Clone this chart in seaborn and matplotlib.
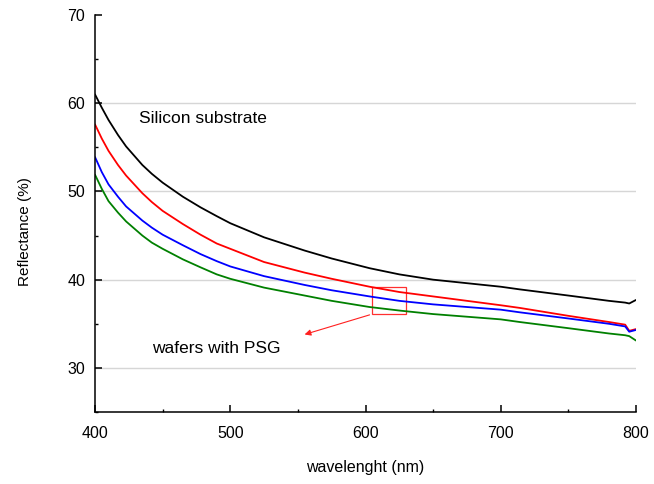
import numpy as np
import pandas as pd
import matplotlib
matplotlib.use("Agg")
import matplotlib.pyplot as plt
import seaborn as sns
from matplotlib.patches import Rectangle
from matplotlib.ticker import MultipleLocator

# wavelength samples (nm)
wavelength = [400, 405, 410, 417, 423, 435, 442, 450, 465, 478, 490, 500, 525, 555, 575,
              603, 625, 650, 700, 714, 750, 780, 792, 795, 800]

# reflectance (%) per sample
silicon = [61.0, 59.5, 58.1, 56.4, 55.1, 53.0, 52.0, 51.0, 49.4, 48.2, 47.2, 46.4, 44.8, 43.3, 42.4,
           41.3, 40.6, 40.0, 39.2, 38.9, 38.2, 37.6, 37.4, 37.3, 37.7]
psg_red = [57.6, 56.0, 54.6, 53.0, 51.8, 49.8, 48.8, 47.8, 46.3, 45.1, 44.1, 43.5, 42.0, 40.8, 40.1,
           39.2, 38.6, 38.1, 37.1, 36.8, 35.9, 35.2, 34.9, 34.2, 34.4]
psg_blue = [53.9, 52.2, 50.8, 49.4, 48.3, 46.7, 45.9, 45.1, 43.9, 42.9, 42.1, 41.5, 40.4, 39.4, 38.8,
            38.1, 37.6, 37.2, 36.6, 36.3, 35.6, 35.0, 34.7, 34.1, 34.3]
psg_green = [51.9, 50.3, 48.9, 47.6, 46.6, 45.0, 44.2, 43.5, 42.3, 41.4, 40.6, 40.1, 39.1, 38.2, 37.6,
             36.9, 36.5, 36.1, 35.5, 35.2, 34.5, 33.9, 33.7, 33.6, 33.1]

series_names = ["silicon", "red", "blue", "green"]
series_colors = {"silicon": "black", "red": "#ff0000", "blue": "#0000ff", "green": "#008000"}

df = pd.DataFrame({
    "wavelength": wavelength * 4,
    "reflectance": silicon + psg_red + psg_blue + psg_green,
    "sample": [n for n in series_names for _ in wavelength],
})

sns.set_theme(style="ticks")
plt.rcParams["font.family"] = ["Liberation Sans", "DejaVu Sans"]

fig = plt.figure(figsize=(6.54, 4.84), dpi=100)
ax = fig.add_axes([95 / 654, 1 - 412 / 484, 541 / 654, 397 / 484])

sns.lineplot(data=df, x="wavelength", y="reflectance", hue="sample",
             palette=series_colors, hue_order=series_names,
             linewidth=1.3, legend=False, ax=ax)

ax.set_xlim(400, 800)
ax.set_ylim(25, 70)
ax.set_xticks([400, 500, 600, 700, 800])
ax.set_yticks([30, 40, 50, 60, 70])
ax.xaxis.set_minor_locator(MultipleLocator(50))
ax.yaxis.set_minor_locator(MultipleLocator(5))

ax.grid(axis="y", color="#d6d6d6", linewidth=1.0)
ax.get_ygridlines()[-1].set_visible(False)
ax.set_axisbelow(True)

sns.despine(ax=ax)
for side in ["left", "bottom"]:
    ax.spines[side].set_color("black")
    ax.spines[side].set_linewidth(1.1)

ax.tick_params(which="major", direction="in", length=5, width=1.1, color="black",
               labelsize=11.5, labelcolor="black")
ax.tick_params(which="minor", direction="in", length=2.5, width=1.0, color="black")
ax.tick_params(axis="x", which="major", pad=10)
ax.tick_params(axis="y", which="major", pad=7)

ax.set_xlabel("wavelenght (nm)", fontsize=11.5, color="black")
ax.set_ylabel("Reflectance (%)", fontsize=11, color="black")
ax.xaxis.label.set_va("center")
ax.yaxis.label.set_va("center")
ax.xaxis.set_label_coords(0.5, -0.139)
ax.yaxis.set_label_coords(-0.129, 0.455)

ax.text(480, 58.3, "Silicon substrate", fontsize=12.5, ha="center", va="center", color="black")
ax.text(490, 32.2, "wafers with PSG", fontsize=12.5, ha="center", va="center", color="black")

ax.add_patch(Rectangle((605, 36.1), 25, 3.05, fill=False, edgecolor="#ff3030", linewidth=0.9))
ax.annotate("", xy=(553, 33.7), xytext=(605, 36.1),
            arrowprops=dict(arrowstyle="-|>", color="#ff2020", lw=0.8, mutation_scale=9))

fig.savefig("out.png", dpi=100)
